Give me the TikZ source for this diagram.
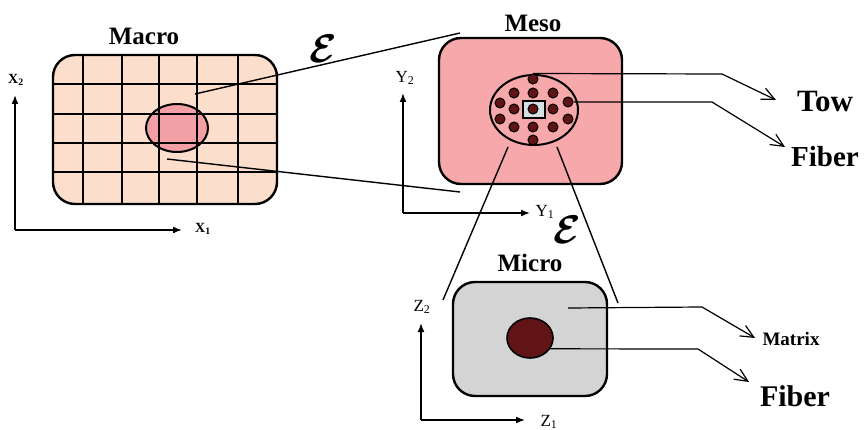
\documentclass[tikz,border=0pt]{standalone}
\usepackage{amsmath,bm,graphicx}
\usepackage{fontspec}
\setmainfont{Liberation Serif}
\usetikzlibrary{arrows.meta,shapes.geometric}

\definecolor{macrofill}{RGB}{252,222,204}
\definecolor{regionfill}{RGB}{242,160,166}
\definecolor{mesofill}{RGB}{246,168,170}
\definecolor{dotfill}{RGB}{96,20,22}
\definecolor{cellfill}{RGB}{212,224,226}
\definecolor{microfill}{RGB}{212,212,212}

\newcommand{\scalesym}{\scalebox{4}{$\bm{\mathcal{E}}$}}

\tikzset{
  scalebox/.style={draw, line width=2.4pt, rounded corners=22pt, inner sep=0pt},
  region/.style={ellipse, draw, line width=2pt, inner sep=0pt},
  title/.style={font=\bfseries\fontsize{25}{27}\selectfont},
  biglabel/.style={font=\bfseries\fontsize{31}{33}\selectfont},
  axislabel/.style={font=\fontsize{17}{19}\selectfont},
  epslabel/.style={inner sep=0pt, font=\normalsize},
  axis/.style={line width=1.6pt, -{Latex[length=9pt,width=7pt]}},
  zoomline/.style={line width=1.4pt},
  callout/.style={line width=1.2pt, -{Straight Barb[length=13pt,width=12pt]}},
  fibredot/.style={circle, draw, line width=1pt, fill=dotfill, minimum size=10pt, inner sep=0pt},
}

\begin{document}
\begin{tikzpicture}[x=1pt,y=-1pt]
\useasboundingbox (0,0) rectangle (864,430);

% Macro scale: grid of cells with the zoomed region
\node[scalebox, fill=macrofill, minimum width=224pt, minimum height=149pt] (macro) at (165,129.5) {};
\node[region, fill=regionfill, minimum width=62pt, minimum height=48pt] (macroreg) at (177,128) {};
\foreach \x in {83,122,159,197,238}
    \draw[line width=2.4pt] (\x,55) -- (\x,204);
\foreach \y in {84,114,143,172}
    \draw[line width=2.4pt] (53,\y) -- (277,\y);
\node[title] (macrotitle) at (144,36) {Macro};

% Macro axes
\coordinate (xo) at (15,230);
\draw[axis] (xo) -- (15,95);
\draw[axis] (xo) -- (182,230);
\node[font=\bfseries\fontsize{14}{16}\selectfont] (xtwo) at (16,80) {X\textsubscript{2}};
\node[font=\bfseries\fontsize{14}{16}\selectfont] (xone) at (203,229) {X\textsubscript{1}};

% Meso scale: tow with fibres
\node[scalebox, fill=mesofill, minimum width=183pt, minimum height=146pt] (meso) at (530.5,111) {};
\node[region, fill=mesofill, minimum width=88pt, minimum height=70pt] (tow) at (534,110) {};
\node[draw, line width=1.8pt, fill=cellfill, minimum width=22pt, minimum height=17pt, inner sep=0pt] (cell) at (534,109.5) {};
\foreach \i/\px/\py in {1/533/79, 2/514/93, 3/533/93, 4/553/93,
                   5/500/103, 6/514/109, 7/533/109, 8/553/109, 9/568/102,
                   10/500/119, 11/514/127, 12/533/127, 13/553/127, 14/568/119,
                   15/533/140}
    \node[fibredot] (d\i) at (\px,\py) {};
\node[title] (mesotitle) at (533,23) {Meso};

% Meso axes
\coordinate (yo) at (403,213);
\draw[axis] (yo) -- (403,93);
\draw[axis] (yo) -- (530,213);
\node[axislabel] (ytwo) at (405,78) {Y\textsubscript{2}};
\node[axislabel] (yone) at (545,212) {Y\textsubscript{1}};

% Macro -> meso zoom
\coordinate (mtop) at (195,94);
\coordinate (mbot) at (167,159);
\coordinate (mesotop) at (460,33);
\coordinate (mesobot) at (460,192);
\draw[zoomline] (mtop) -- (mesotop);
\draw[zoomline] (mbot) -- (mesobot);
\node[epslabel] (epsone) at (323,49) {\scalesym};

% Meso callouts
\coordinate (towbend) at (722,74);
\coordinate (towtip) at (776,100);
\coordinate (fibbend) at (712,102);
\coordinate (fibtip) at (785,147);
\draw[callout] (d1.north) -- (towbend) -- (towtip);
\draw[callout] (d9.east) -- (fibbend) -- (fibtip);
\node[biglabel] (towlabel) at (825,102) {Tow};
\node[font=\bfseries\fontsize{29}{31}\selectfont] (fiblabel) at (825,157) {Fiber};

% Meso -> micro zoom
\coordinate (tleft) at (508,147);
\coordinate (tright) at (557,147);
\coordinate (micleft) at (443,300);
\coordinate (micright) at (618,303);
\draw[zoomline] (tleft) -- (micleft);
\draw[zoomline] (tright) -- (micright);
\node[epslabel] (epstwo) at (567,230) {\scalesym};

% Micro scale: single fibre in matrix
\node[scalebox, fill=microfill, minimum width=154pt, minimum height=114pt] (micro) at (530,339) {};
\node[region, line width=1.6pt, fill=dotfill, minimum width=46pt, minimum height=40pt] (micfib) at (530,338) {};
\node[title] (microtitle) at (530,263) {Micro};

% Micro axes
\coordinate (zo) at (421,420);
\draw[axis] (zo) -- (421,323);
\draw[axis] (zo) -- (525,420);
\node[axislabel] (ztwo) at (422,307) {Z\textsubscript{2}};
\node[axislabel] (zone) at (549,422) {Z\textsubscript{1}};

% Micro callouts
\coordinate (matpt) at (568,308);
\coordinate (matbend) at (702,307);
\coordinate (mattip) at (755,338);
\coordinate (mfbend) at (698,349);
\coordinate (mftip) at (749,382);
\draw[callout] (matpt) -- (matbend) -- (mattip);
\draw[callout] (micfib.-28) -- (mfbend) -- (mftip);
\node[font=\bfseries\fontsize{19}{21}\selectfont] (matlabel) at (791,339) {Matrix};
\node[font=\bfseries\fontsize{30}{32}\selectfont] (mfiblabel) at (795,396) {Fiber};
\end{tikzpicture}
\end{document}
